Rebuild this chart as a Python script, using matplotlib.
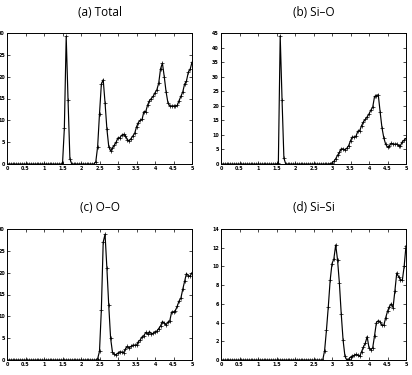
import numpy as np
import matplotlib
matplotlib.use('Agg')
import matplotlib.pyplot as plt

# radial grid, r = 0 .. 5 in steps of 0.05
r = np.linspace(0, 5, 101)

total = [0.0]*31 + [8.2, 29.2, 14.6, 1.2] + [0.0]*13 + [
    0.5, 4.0, 11.5, 18.3, 19.3, 14.0, 8.0, 4.0, 3.0, 3.6,
    4.3, 5.0, 6.0, 6.0, 6.6, 6.8, 6.5, 5.6, 5.3, 5.8,
    6.4, 7.0, 8.5, 9.5, 10.0, 10.2, 12.0, 12.0, 13.5, 14.5,
    15.0, 15.5, 16.3, 17.0, 18.5, 21.8, 23.1, 20.0, 16.5, 14.0,
    13.3, 13.3, 13.3, 13.3, 13.4, 14.5, 15.5, 16.5, 18.3, 19.0,
    21.0, 21.7, 23.3]

si_o = [0.0]*31 + [0.3, 44.0, 22.0, 2.0] + [0.0]*24 + [
    0.1, 0.4, 0.9, 1.8, 3.0, 4.0, 5.2, 5.2, 4.9, 5.4,
    6.3, 8.0, 9.3, 9.2, 9.6, 11.3, 11.5, 13.2, 14.5, 15.3,
    16.2, 17.2, 18.5, 19.5, 23.2, 23.5, 23.8, 18.0, 12.5, 9.0,
    6.8, 5.8, 6.2, 7.1, 6.9, 6.8, 6.9, 6.3, 6.3, 7.6,
    8.2, 8.8]

o_o = [0.0]*49 + [
    0.3, 2.0, 11.5, 27.0, 28.8, 21.0, 12.5, 5.0, 1.8, 1.3,
    1.2, 1.6, 1.9, 1.8, 1.7, 2.5, 3.1, 2.8, 3.1, 3.4,
    3.4, 3.4, 4.2, 4.6, 5.3, 5.6, 6.3, 5.9, 6.5, 6.0,
    6.1, 6.5, 6.6, 7.2, 7.8, 8.8, 8.5, 8.0, 8.7, 9.0,
    11.0, 11.0, 11.3, 12.3, 13.5, 14.2, 16.2, 18.0, 19.8, 19.3,
    19.2, 20.0]

si_si = [0.0]*56 + [
    1.0, 3.2, 5.7, 8.5, 10.3, 10.8, 12.3, 10.7, 8.2, 4.9,
    2.1, 0.4, 0.0, 0.1, 0.3, 0.4, 0.5, 0.6, 0.5, 0.4,
    0.9, 1.4, 1.8, 2.5, 1.3, 1.1, 1.3, 2.6, 4.0, 4.2,
    4.1, 3.7, 3.7, 4.5, 5.2, 5.7, 6.0, 5.6, 7.4, 9.3,
    8.9, 8.6, 8.5, 10.0, 12.2]

titles = ['(a) Total', '(b) Si\u2013O', '(c) O\u2013O', '(d) Si\u2013Si']
series = [total, si_o, o_o, si_si]
ymax = [30, 45, 30, 14]
ystep = [5, 5, 5, 2]
xticks = [0, 0.5, 1, 1.5, 2, 2.5, 3, 3.5, 4, 4.5, 5]
xlabels = ['0', '0.5', '1', '1.5', '2', '2.5', '3', '3.5', '4', '4.5', '5']

W, H = 412, 375
# axes boxes in pixels: left, top, right, bottom
boxes = [(7, 33, 192, 164), (221, 33, 406, 164),
         (7, 229, 192, 360), (221, 229, 406, 360)]
title_y = [12, 12, 207, 207]

fig = plt.figure(figsize=(W/100, H/100), dpi=100)

for i in range(4):
    l, t, rr, b = boxes[i]
    ax = fig.add_axes([l/W, 1-b/H, (rr-l)/W, (b-t)/H])
    ax.plot(r, series[i], color='black', lw=0.85, marker='+', ms=2.5, mew=0.5)
    ax.set_xlim(0, 5)
    ax.set_ylim(0, ymax[i])
    ax.set_xticks(xticks)
    ax.set_xticklabels(xlabels, fontweight='bold')
    yt = list(range(0, ymax[i]+1, ystep[i]))
    ax.set_yticks(yt)
    ax.set_yticklabels([str(v) for v in yt], fontweight='bold')
    ax.tick_params(direction='in', top=True, right=True, length=2, width=0.5,
                   labelsize=3.5, pad=1.5)
    for s in ax.spines.values():
        s.set_linewidth(0.7)
    fig.text((l+rr)/2/W, 1-title_y[i]/H, titles[i], ha='center', va='center',
             fontsize=8.5, family='Open Sans')

fig.savefig('out.png', dpi=100)
